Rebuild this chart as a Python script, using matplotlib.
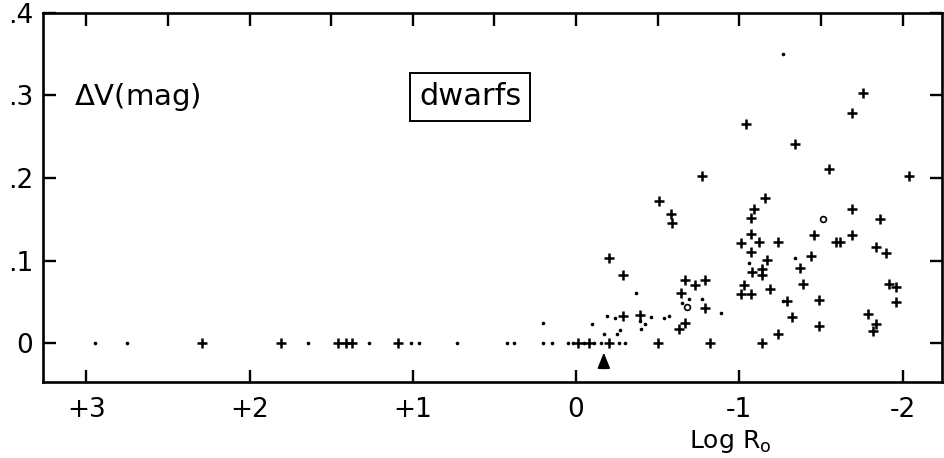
import matplotlib
matplotlib.use("Agg")
import matplotlib.pyplot as plt

# Log Ro (x) and Delta V in mag (y)
cross_logr = [2.29, 1.81, 1.46, 1.41, 1.37, 1.09, -0.01, -0.08, -0.20, -0.50, -0.82, -1.14,
              -0.20, -0.29, -0.51, -0.58, -0.59, -0.77, -0.29, -0.39, -0.67, -0.73, -0.79,
              -0.64, -0.79, -0.67, -0.63,
              -1.07, -1.01, -1.12, -1.24, -1.07, -1.17, -1.08, -1.14, -1.14, -1.03, -1.01,
              -1.07, -1.19, -1.24,
              -1.46, -1.59, -1.62, -1.69, -1.84, -1.90, -1.44, -1.37, -1.39, -1.92, -1.96,
              -1.29, -1.49, -1.96, -1.32, -1.79, -1.49, -1.84, -1.82,
              -1.04, -1.16, -1.09, -1.07,
              -1.76, -1.69, -1.34, -1.55, -2.04, -1.69, -1.86]
cross_dv = [0, 0, 0, 0, 0, 0, 0, 0, 0, 0, 0, 0,
            0.103, 0.082, 0.172, 0.157, 0.145, 0.202, 0.033, 0.034, 0.077, 0.071, 0.077,
            0.061, 0.043, 0.024, 0.017,
            0.132, 0.121, 0.122, 0.122, 0.110, 0.101, 0.086, 0.090, 0.082, 0.071, 0.060,
            0.060, 0.066, 0.011,
            0.131, 0.122, 0.122, 0.131, 0.117, 0.109, 0.106, 0.091, 0.072, 0.072, 0.068,
            0.051, 0.052, 0.050, 0.032, 0.035, 0.021, 0.023, 0.015,
            0.265, 0.176, 0.162, 0.152,
            0.303, 0.279, 0.241, 0.211, 0.202, 0.162, 0.150]

dot_logr = [2.95, 2.75, 1.64, 1.27, 1.01, 0.96, 0.73, 0.425, 0.38, 0.20, 0.15, 0.05, 0.02,
            -0.05, -0.11, -0.15, -0.26, -0.30,
            0.20, -0.10, -0.37, -0.19, -0.24, -0.17, -0.25, -0.27, -0.39, -0.42, -0.40,
            -0.46, -0.54, -0.57, -0.65, -0.69, -0.77, -0.89, -1.06, -1.27, -1.34, -1.27]
dot_dv = [0, 0, 0, 0, 0, 0, 0, 0, 0, 0, 0, 0, 0,
          0, 0, 0, 0, 0,
          0.024, 0.023, 0.061, 0.033, 0.031, 0.011, 0.011, 0.016, 0.027, 0.023, 0.017,
          0.032, 0.031, 0.033, 0.049, 0.053, 0.053, 0.036, 0.097, 0.051, 0.103, 0.350]

circle_logr = [-0.68, -1.51]
circle_dv = [0.044, 0.150]

xticks = [3, 2, 1, 0, -1, -2]
xticklabels = ["+3", "+2", "+1", "0", "-1", "-2"]
yticks = [0, 0.1, 0.2, 0.3, 0.4]
yticklabels = ["0", ".1", ".2", ".3", ".4"]

plt.rcParams["font.family"] = ["DejaVu Sans"]

fig = plt.figure(figsize=(9.45, 4.58), dpi=100)
ax = fig.add_axes([0.0455, 0.166, 0.9515, 0.806])

ax.plot(cross_logr, cross_dv, "+", color="black", ms=7.5, mew=1.8, ls="none")
ax.plot(dot_logr, dot_dv, "o", color="black", ms=2.6, mew=0, ls="none")
ax.plot(circle_logr, circle_dv, "o", mfc="white", mec="black", ms=4.2, mew=1.2, ls="none")

ax.annotate("", xy=(-0.17, -0.008), xytext=(-0.17, -0.034),
            arrowprops=dict(arrowstyle="-|>,head_width=0.38,head_length=0.95",
                            color="black", lw=1.3))

ax.set_xlim(3.266, -2.243)
ax.set_ylim(-0.047, 0.399)

ax.set_xticks(xticks)
ax.set_xticklabels(xticklabels)
ax.set_xticks([2.5, 1.5, 0.5, -0.5, -1.5], minor=True)
ax.set_yticks(yticks)
ax.set_yticklabels(yticklabels)

for side in ax.spines.values():
    side.set_linewidth(1.9)

ax.tick_params(which="major", direction="in", top=True, right=True,
               length=9, width=1.7, labelsize=19, pad=7)
ax.tick_params(axis="x", which="major", pad=11)
ax.tick_params(which="minor", direction="in", top=True, bottom=False,
               length=9, width=1.7)

ax.text(0.034, 0.772, r"$\Delta$V(mag)", transform=ax.transAxes,
        fontsize=21, va="center", ha="left")
ax.text(0.475, 0.772, "dwarfs", transform=ax.transAxes, fontsize=22,
        va="center", ha="center",
        bbox=dict(boxstyle="square,pad=0.3", fc="white", ec="black", lw=1.4))
ax.text(0.764, -0.162, r"Log R$_{\rm o}$", transform=ax.transAxes,
        fontsize=18, va="center", ha="center")

fig.savefig("out.png", dpi=100, facecolor="white")
